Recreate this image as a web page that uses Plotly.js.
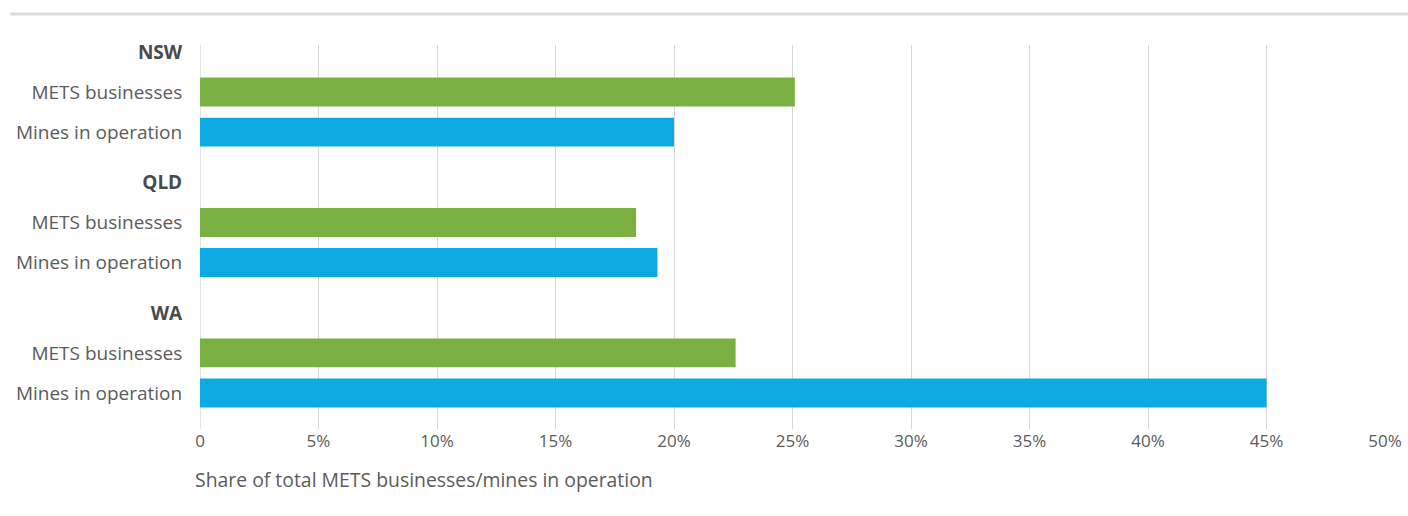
<!DOCTYPE html>
<html>
<head>
<meta charset="utf-8">
<script src="https://cdn.plot.ly/plotly-3.0.1.min.js"></script>
<style>html,body{margin:0;padding:0;background:#fff;}#chart{width:1408px;height:516px;}</style>
</head>
<body>
<div id="chart"></div>
<script>
// Data
const regions = ["NSW", "QLD", "WA"];
const seriesNames = ["METS businesses", "Mines in operation"];
const metsBusinesses = [25.1, 18.4, 22.6];   // % share
const minesInOperation = [20.0, 19.3, 45.0]; // % share
const xTickVals = [0, 5, 10, 15, 20, 25, 30, 35, 40, 45, 50];
const xTickText = ["0", "5%", "10%", "15%", "20%", "25%", "30%", "35%", "40%", "45%", "50%"];
const xTitle = "Share of total METS businesses/mines in operation";

// Row positions: header, METS, Mines per group, with extra gap between groups
const groupStep = 3.26;
const headerPos = regions.map((r, i) => i * groupStep);
const metsPos = headerPos.map(p => p + 1);
const minesPos = headerPos.map(p => p + 2);

const tickvals = [], ticktext = [];
regions.forEach((r, i) => {
  tickvals.push(headerPos[i], metsPos[i], minesPos[i]);
  ticktext.push('<b style="color:#4a4a4a">' + r + '</b>', seriesNames[0], seriesNames[1]);
});

const FONT = "Open Sans, sans-serif";
const TXT = '#5b5b5b';
const traces = [
  {type: 'bar', orientation: 'h', name: seriesNames[0], x: metsBusinesses, y: metsPos,
   width: 0.72, marker: {color: '#7ab042'}, hoverinfo: 'x+text', text: regions, textposition: 'none'},
  {type: 'bar', orientation: 'h', name: seriesNames[1], x: minesInOperation, y: minesPos,
   width: 0.72, marker: {color: '#0caae0'}, hoverinfo: 'x+text', text: regions, textposition: 'none'}
];

const layout = {
  width: 1408, height: 516,
  margin: {l: 200, r: 23, t: 45, b: 87},
  paper_bgcolor: '#fff', plot_bgcolor: '#fff',
  showlegend: false,
  barmode: 'overlay',
  font: {family: FONT, size: 17, color: TXT},
  xaxis: {
    range: [0, 50], tickvals: xTickVals, ticktext: xTickText,
    showgrid: true, gridcolor: '#d6d6d6', gridwidth: 1.3,
    zeroline: false, showline: false,
    ticks: '', fixedrange: true,
    tickfont: {family: FONT, size: 17, color: TXT}
  },
  yaxis: {
    range: [headerPos[2] + 2 + 0.9, -0.175],
    tickvals: tickvals, ticktext: ticktext,
    showgrid: false, zeroline: false, showline: false,
    ticks: 'outside', ticklen: 13, tickcolor: 'rgba(0,0,0,0)',
    tickfont: {family: FONT, size: 19, color: TXT}, fixedrange: true
  },
  annotations: [
    {text: xTitle, xref: 'paper', yref: 'paper', x: -0.0059, y: -0.1328,
     xanchor: 'left', yanchor: 'middle', showarrow: false,
     font: {family: FONT, size: 19.4, color: TXT}}
  ],
  shapes: [
    {type: 'line', xref: 'paper', yref: 'paper', x0: -0.16, x1: 1.02, y0: 1.081, y1: 1.081,
     line: {color: '#dcdcdc', width: 3}},
    {type: 'line', xref: 'x', yref: 'paper', x0: 0, x1: 0, y0: 0, y1: 1,
     line: {color: '#d6d6d6', width: 1.3}, layer: 'below'}
  ]
};

Plotly.newPlot('chart', traces, layout, {displayModeBar: false});
</script>
</body>
</html>
